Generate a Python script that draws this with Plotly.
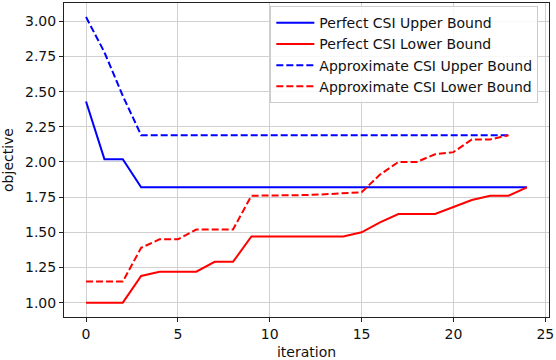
import plotly.graph_objects as go

# iterations
iters = list(range(25))

# bounds
perfect_upper = [2.43, 2.02, 2.02, 1.82, 1.82, 1.82, 1.82, 1.82, 1.82, 1.82,
                 1.82, 1.82, 1.82, 1.82, 1.82, 1.82, 1.82, 1.82, 1.82, 1.82,
                 1.82, 1.82, 1.82, 1.82, 1.82]
perfect_lower = [1.00, 1.00, 1.00, 1.19, 1.22, 1.22, 1.22, 1.29, 1.29, 1.47,
                 1.47, 1.47, 1.47, 1.47, 1.47, 1.50, 1.57, 1.63, 1.63, 1.63,
                 1.68, 1.73, 1.76, 1.76, 1.82]
approx_upper = [3.03, 2.78, 2.47, 2.19, 2.19, 2.19, 2.19, 2.19, 2.19, 2.19,
                2.19, 2.19, 2.19, 2.19, 2.19, 2.19, 2.19, 2.19, 2.19, 2.19,
                2.19, 2.19, 2.19, 2.19]
approx_lower = [1.15, 1.15, 1.15, 1.39, 1.45, 1.45, 1.52, 1.52, 1.52, 1.76,
                1.76, 1.76, 1.765, 1.77, 1.775, 1.785, 1.91, 2.00, 2.00, 2.055,
                2.07, 2.16, 2.16, 2.19]

FONT = "DejaVu Sans"
FS = 14

fig = go.Figure()

series = [
    ("Perfect CSI Upper Bound", perfect_upper, "#0000ff", "solid"),
    ("Perfect CSI Lower Bound", perfect_lower, "#ff0000", "solid"),
    ("Approximate CSI Upper Bound", approx_upper, "#0000ff", "7px,3px"),
    ("Approximate CSI Lower Bound", approx_lower, "#ff0000", "7px,3px"),
]
for name, vals, color, dash in series:
    fig.add_trace(go.Scatter(
        x=iters[:len(vals)],
        y=vals,
        mode='lines',
        name=name,
        line=dict(color=color, width=2, dash=dash)
    ))

axis_style = dict(
    showline=True, mirror=True, linecolor='#222222', linewidth=1,
    ticks='outside', ticklen=4, tickcolor='#222222',
    showgrid=True, gridcolor='#d0d0d0', gridwidth=1,
    zeroline=False, automargin=False,
    tickfont=dict(family=FONT, size=FS, color='#111111'),
)

fig.update_layout(
    width=556, height=360,
    margin=dict(l=64, r=7, t=3, b=43),
    paper_bgcolor='white', plot_bgcolor='white',
    font=dict(family=FONT, size=FS, color='#111111'),
    showlegend=True,
    legend=dict(
        x=0.978, y=0.99, xanchor='right', yanchor='top',
        bgcolor='rgba(255,255,255,0.85)', bordercolor='#cccccc', borderwidth=1,
        itemwidth=38,
        font=dict(family=FONT, size=FS),
    ),
    xaxis=dict(range=[-1.2, 25.2], tickvals=[0, 5, 10, 15, 20, 25],
               title=dict(text='iteration', font=dict(family=FONT, size=FS)),
               **axis_style),
    yaxis=dict(range=[0.898, 3.13], tickvals=[1.0, 1.25, 1.5, 1.75, 2.0, 2.25, 2.5, 2.75, 3.0],
               tickformat='.2f',
               title=dict(text='objective', font=dict(family=FONT, size=FS)),
               **axis_style),
)

# drop the default page margin so the figure sits at the window's corner
fig.write_html("out.html", config={'displayModeBar': False},
               post_script="document.body.style.margin='0';")
